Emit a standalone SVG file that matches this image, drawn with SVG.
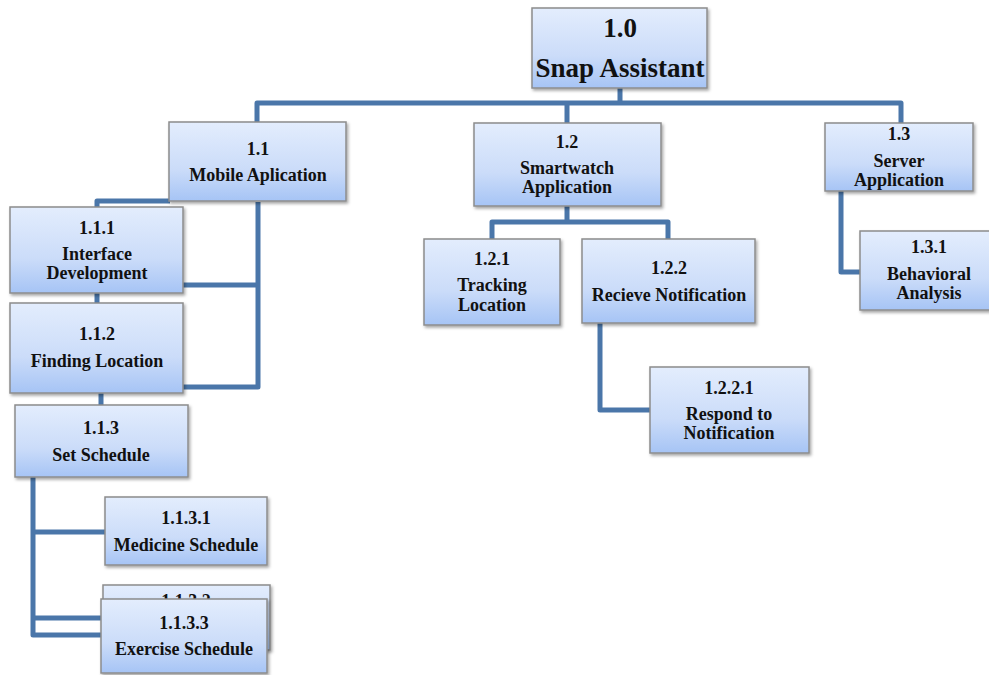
<svg xmlns="http://www.w3.org/2000/svg" width="989" height="675" viewBox="0 0 989 675">
  <defs>
    <linearGradient id="boxFill" x1="0" y1="0" x2="0" y2="1">
      <stop offset="0" stop-color="#e3edfd"/>
      <stop offset="0.6" stop-color="#cbdcf9"/>
      <stop offset="1" stop-color="#a6c4f5"/>
    </linearGradient>
    <filter id="shadow" x="-10%" y="-10%" width="125%" height="130%">
      <feDropShadow dx="1.5" dy="2" stdDeviation="1.5" flood-color="#000" flood-opacity="0.35"/>
    </filter>
  </defs>
  <style>
    .box { fill: url(#boxFill); stroke: #8c8c8c; stroke-width: 1.5; filter: url(#shadow); }
    .wire { fill: none; stroke: #4a76a9; stroke-width: 5; stroke-linejoin: round; }
    text { font-family: "Liberation Serif", "Times New Roman", serif; font-weight: bold; fill: #111; text-anchor: middle; font-size: 18px; }
    .big { font-size: 27px; }
  </style>
  <rect width="989" height="675" fill="#fff"/>

  <g id="connectors">
    <path class="wire" d="M620 88 V103 M257 122 V103 H901 V123 M567 103 V123"/>
    <path class="wire" d="M170 201 H97 V207 M97 293 V303 M101 393 V405"/>
    <path class="wire" d="M258 202 V387 H183 M258 285 H183"/>
    <path class="wire" d="M33 477 V635 H103 M33 532 H105 M33 618 H103"/>
    <path class="wire" d="M567 206 V222 M492 239 V222 H668 V239"/>
    <path class="wire" d="M600 323 V410 H650"/>
    <path class="wire" d="M841 191 V272 H860"/>
  </g>

  <g id="n1_0">
    <rect class="box" x="532" y="8" width="175" height="80"/>
    <text class="big" x="620" y="37">1.0</text>
    <text class="big" x="620" y="77">Snap Assistant</text>
  </g>
  <g id="n1_1">
    <rect class="box" x="169" y="122" width="177" height="79"/>
    <text x="258" y="155">1.1</text>
    <text x="258" y="181">Mobile Aplication</text>
  </g>
  <g id="n1_1_1">
    <rect class="box" x="10" y="207" width="173" height="86"/>
    <text x="97" y="234">1.1.1</text>
    <text x="97" y="260">Interface</text>
    <text x="97" y="279">Development</text>
  </g>
  <g id="n1_1_2">
    <rect class="box" x="10" y="303" width="173" height="90"/>
    <text x="97" y="340">1.1.2</text>
    <text x="97" y="367">Finding Location</text>
  </g>
  <g id="n1_1_3">
    <rect class="box" x="15" y="405" width="173" height="72"/>
    <text x="101" y="434">1.1.3</text>
    <text x="101" y="461">Set Schedule</text>
  </g>
  <g id="n1_1_3_1">
    <rect class="box" x="105" y="497" width="162" height="68"/>
    <text x="186" y="524">1.1.3.1</text>
    <text x="186" y="551">Medicine Schedule</text>
  </g>
  <g id="n1_1_3_2">
    <rect class="box" x="103" y="585" width="167" height="65"/>
    <text x="186" y="607">1.1.3.2</text>
  </g>
  <g id="n1_1_3_3">
    <rect class="box" x="101" y="599" width="166" height="74"/>
    <text x="184" y="629">1.1.3.3</text>
    <text x="184" y="655">Exercise Schedule</text>
  </g>
  <g id="n1_2">
    <rect class="box" x="474" y="123" width="187" height="83"/>
    <text x="567" y="148">1.2</text>
    <text x="567" y="174">Smartwatch</text>
    <text x="567" y="193">Application</text>
  </g>
  <g id="n1_2_1">
    <rect class="box" x="424" y="239" width="136" height="86"/>
    <text x="492" y="265">1.2.1</text>
    <text x="492" y="291">Tracking</text>
    <text x="492" y="311">Location</text>
  </g>
  <g id="n1_2_2">
    <rect class="box" x="582" y="239" width="173" height="84"/>
    <text x="669" y="274">1.2.2</text>
    <text x="669" y="301">Recieve Notification</text>
  </g>
  <g id="n1_2_2_1">
    <rect class="box" x="650" y="367" width="159" height="86"/>
    <text x="729" y="394">1.2.2.1</text>
    <text x="729" y="420">Respond to</text>
    <text x="729" y="439">Notification</text>
  </g>
  <g id="n1_3">
    <rect class="box" x="825" y="123" width="148" height="68"/>
    <text x="899" y="140">1.3</text>
    <text x="899" y="167">Server</text>
    <text x="899" y="186">Application</text>
  </g>
  <g id="n1_3_1">
    <rect class="box" x="860" y="231" width="140" height="79"/>
    <text x="929" y="253">1.3.1</text>
    <text x="929" y="280">Behavioral</text>
    <text x="929" y="299">Analysis</text>
  </g>
</svg>
